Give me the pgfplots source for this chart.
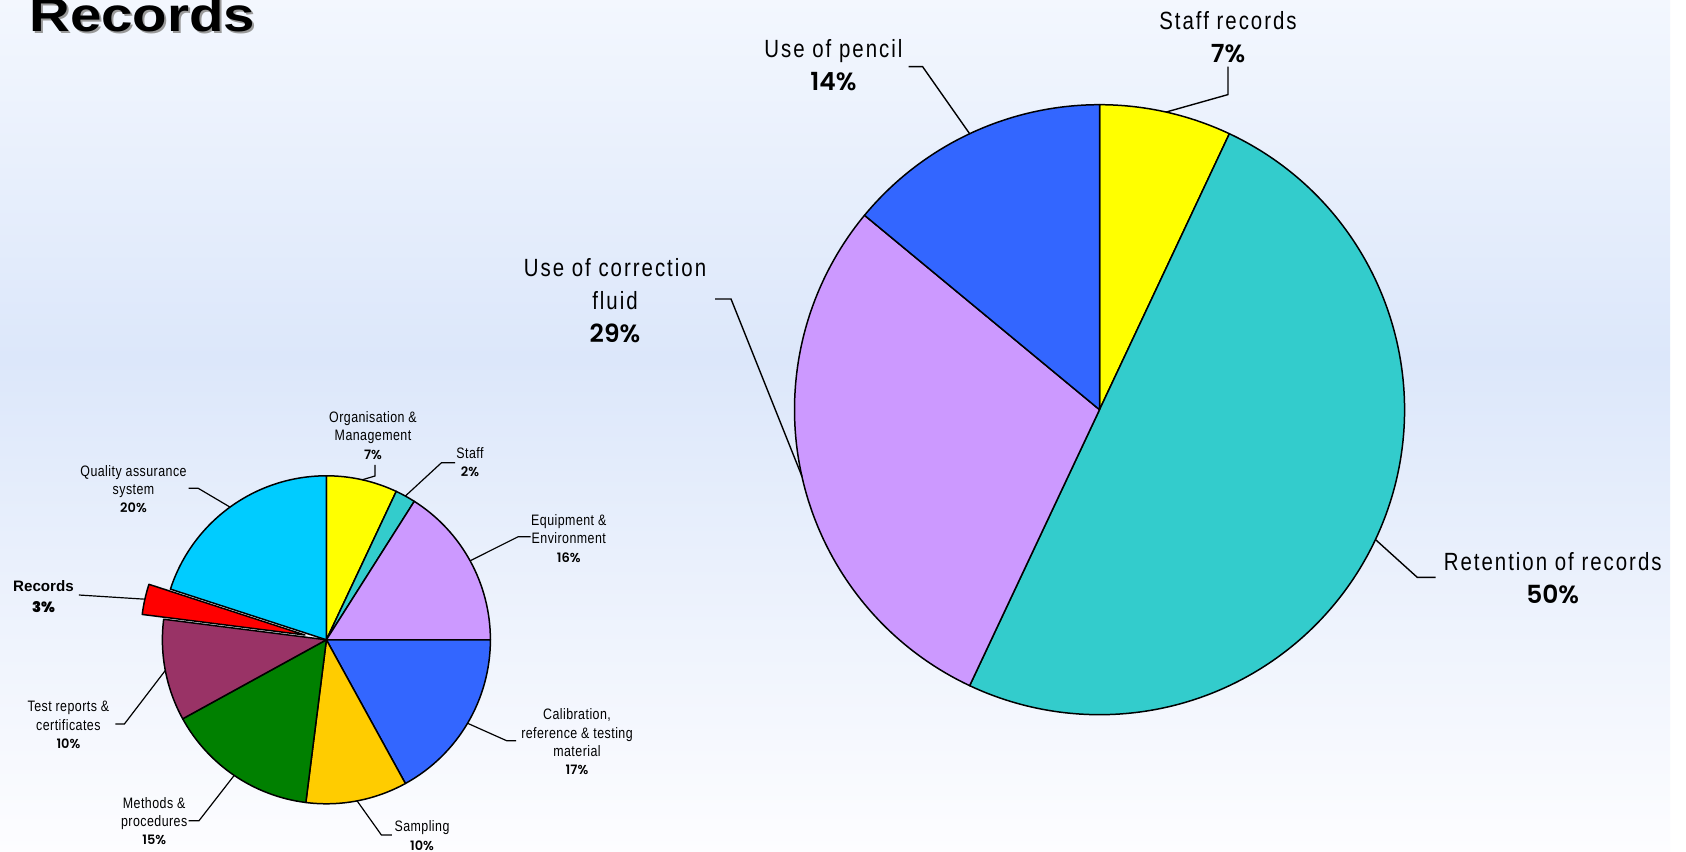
\documentclass[border=0pt]{standalone}
\usepackage{pgfplots}
\pgfplotsset{compat=1.18}
\usepackage{fontspec}
\setmainfont{Liberation Sans}
\newfontfamily\biglabfont[FakeStretch=0.82,LetterSpace=8]{Liberation Sans}
\newfontfamily\smalllabfont[FakeStretch=0.82,LetterSpace=3]{Liberation Sans}
\IfFontExistsTF{Poppins SemiBold}
  {\newfontfamily\pctfont{Poppins SemiBold}}
  {\newfontfamily\pctfont{Poppins}[UprightFont=*, BoldFont=*]}
\newfontfamily\titlefont[FakeStretch=1.18]{Liberation Sans Bold}
\newfontfamily\recfont{Liberation Sans}

\definecolor{cYellow}{HTML}{FFFF00}
\definecolor{cTeal}{HTML}{33CCCC}
\definecolor{cLav}{HTML}{CC99FF}
\definecolor{cBlue}{HTML}{3366FF}
\definecolor{cGold}{HTML}{FFCC00}
\definecolor{cGreen}{HTML}{008000}
\definecolor{cMaroon}{HTML}{993366}
\definecolor{cRed}{HTML}{FF0000}
\definecolor{cCyan}{HTML}{00CCFF}
\definecolor{bgTop}{HTML}{F3F7FE}
\definecolor{bgMid}{HTML}{DCE7FA}
\definecolor{bgBot}{HTML}{FDFDFF}
\pgfdeclareverticalshading{bgshade}{100bp}{color(0bp)=(bgBot); color(25bp)=(bgBot); color(54bp)=(bgMid); color(75bp)=(bgTop); color(100bp)=(bgTop)}

% slice: cx, cy, radius, start (cumulative %), value (%), colour, extra options
\newcommand{\slice}[7]{%
  \filldraw[fill=#6, draw=black, line width=0.75pt, line join=round, #7]
    (axis cs:#1,#2) -- ++({90-3.6*(#4)}:#3)
    arc[start angle={90-3.6*(#4)}, end angle={90-3.6*(#4+#5)}, radius=#3] -- cycle;}

\newcommand{\bigpct}[1]{{\pctfont\fontsize{12.5}{16.5}\selectfont #1}}
\newcommand{\smallpct}[1]{{\pctfont\fontsize{6.5}{9.2}\selectfont #1}}

\begin{document}
\begin{tikzpicture}
\begin{axis}[
  at={(0,0)}, anchor=south west,
  scale only axis, width=843bp, height=426bp,
  xmin=0, xmax=1686, ymin=0, ymax=852,
  hide axis, clip=false]

% background
\fill[white] (axis cs:0,0) rectangle (axis cs:1686,852);
\shade[shading=bgshade] (axis cs:0,0) rectangle (axis cs:1670,852);

% title
\node[anchor=base west, inner sep=0pt, text=black!40] at (axis cs:31,818) {\titlefont\fontsize{24}{28}\selectfont Records};
\node[anchor=base west, inner sep=0pt] at (axis cs:29,820) {\titlefont\fontsize{24}{28}\selectfont Records};

% ---------- big pie: Records ----------
\slice{1099.5}{442.3}{152.5bp}{0}{7}{cYellow}{}
\slice{1099.5}{442.3}{152.5bp}{7}{50}{cTeal}{}
\slice{1099.5}{442.3}{152.5bp}{57}{29}{cLav}{}
\slice{1099.5}{442.3}{152.5bp}{86}{14}{cBlue}{}

\begin{scope}[line width=0.7pt]
\draw (axis cs:1228,785.3) -- (axis cs:1228,757.4) -- (axis cs:1166,739.9);
\draw (axis cs:908.6,785.3) -- (axis cs:922.6,785.3) -- (axis cs:969.6,718.3);
\draw (axis cs:715,553) -- (axis cs:731,553) -- (axis cs:801.9,375.8);
\draw (axis cs:1435.5,274.6) -- (axis cs:1417.3,274.6) -- (axis cs:1375.5,312.4);
\end{scope}

\begin{scope}[every node/.style={align=center, inner sep=0pt, font=\biglabfont\fontsize{12.5}{16.5}\selectfont}]
\node at (axis cs:1228,815) {Staff records\\\bigpct{7\%}};
\node at (axis cs:833.4,787) {Use of pencil\\\bigpct{14\%}};
\node at (axis cs:615,551.5) {Use of correction\\fluid\\\bigpct{29\%}};
\node at (axis cs:1552.7,274) {Retention of records\\\bigpct{50\%}};
\end{scope}

% ---------- small pie: all categories ----------
\slice{326.4}{212.2}{82bp}{0}{7}{cYellow}{}
\slice{326.4}{212.2}{82bp}{7}{2}{cTeal}{}
\slice{326.4}{212.2}{82bp}{9}{16}{cLav}{}
\slice{326.4}{212.2}{82bp}{25}{17}{cBlue}{}
\slice{326.4}{212.2}{82bp}{42}{10}{cGold}{}
\slice{326.4}{212.2}{82bp}{52}{15}{cGreen}{}
\slice{326.4}{212.2}{82bp}{67}{10}{cMaroon}{}
\slice{326.4}{212.2}{82bp}{80}{20}{cCyan}{}
\slice{326.4}{212.2}{82bp}{77}{3}{cRed}{shift={(167.4:11bp)}}

\begin{scope}[line width=0.6pt]
\draw (axis cs:375,387) -- (axis cs:375,376) -- (axis cs:362.2,372.2);
\draw (axis cs:455,389.3) -- (axis cs:441.5,389.3) -- (axis cs:405.4,356);
\draw (axis cs:530.7,315.3) -- (axis cs:518.2,315.3) -- (axis cs:470.1,291.2);
\draw (axis cs:516.2,111.3) -- (axis cs:506.6,111.3) -- (axis cs:467.6,128.7);
\draw (axis cs:391.8,17) -- (axis cs:381.4,17) -- (axis cs:357.1,51.1);
\draw (axis cs:188.6,31.3) -- (axis cs:199,31.3) -- (axis cs:234.2,76.6);
\draw (axis cs:115.3,128) -- (axis cs:124.4,128) -- (axis cs:165.3,181.5);
\draw (axis cs:78.8,257) -- (axis cs:144.9,252.8);
\draw (axis cs:188.6,363.7) -- (axis cs:198.2,363.7) -- (axis cs:230,344.9);
\end{scope}

\begin{scope}[every node/.style={align=center, inner sep=0pt, font=\smalllabfont\fontsize{7.6}{9.2}\selectfont}]
\node at (axis cs:373,416.5) {Organisation \&\\Management\\\smallpct{7\%}};
\node at (axis cs:470,389.6) {Staff\\\smallpct{2\%}};
\node at (axis cs:568.8,313.7) {Equipment \&\\Environment\\\smallpct{16\%}};
\node at (axis cs:577,110.2) {Calibration,\\reference \& testing\\material\\\smallpct{17\%}};
\node at (axis cs:422,16.5) {Sampling\\\smallpct{10\%}};
\node at (axis cs:154.2,31) {Methods \&\\procedures\\\smallpct{15\%}};
\node at (axis cs:68.4,127) {Test reports \&\\certificates\\\smallpct{10\%}};
\node at (axis cs:133.5,363) {Quality assurance\\system\\\smallpct{20\%}};
\node[font=\recfont\bfseries\fontsize{7.6}{10.5}\selectfont] at (axis cs:43.5,255.8) {Records\\{\pctfont\fontsize{7.4}{10.5}\selectfont 3\%}};
\end{scope}

\end{axis}
\pgfresetboundingbox
\path (0,0) rectangle (843bp,426bp);
\end{tikzpicture}
\end{document}
